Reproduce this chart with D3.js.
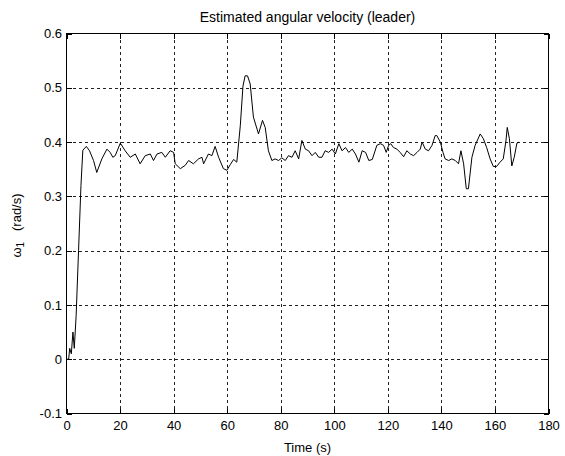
<!DOCTYPE html>
<html>
<head>
<meta charset="utf-8">
<script src="https://cdn.jsdelivr.net/npm/d3@7"></script>
<style>
  html, body { margin: 0; padding: 0; background: #fff; }
  svg { display: block; font-family: "Liberation Sans", Arial, sans-serif; }
</style>
</head>
<body>
<div id="chart"></div>
<script>
/* estimated angular velocity of the leader */
const time = [0, 0.8, 1.2, 1.8, 2.4, 2.9, 3.6, 4.5, 5.4, 6.1, 7.4, 8.6, 10.1, 11.3, 13.2, 15.1, 16.3, 17.3, 18.2,
  20.1, 21.9, 23.8, 25.7, 27.5, 29.4, 31.3, 32.5, 33.8, 35.6, 36.9, 38.7, 40.0, 40.6, 42.5, 44.3, 45.6, 47.4,
  49.3, 50.6, 51.2, 53.0, 54.3, 55.5, 56.8, 58.6, 59.9, 61.1, 62.4, 63.6, 64.9, 65.9, 66.7, 67.6, 68.6, 69.8,
  71.7, 73.2, 74.2, 75.4, 76.7, 77.9, 79.2, 80.4, 81.7, 82.9, 84.2, 85.4, 86.7, 87.9, 89.2, 90.4, 91.7, 92.9,
  94.2, 95.4, 96.6, 97.9, 99.2, 100.4, 101.7, 102.9, 104.2, 105.4, 106.7, 107.9, 109.2, 110.4, 111.7, 112.9,
  114.2, 115.9, 117.2, 118.4, 119.4, 120.3, 121.1, 122.1, 123.4, 124.6, 125.9, 127.1, 128.4, 129.6, 130.9,
  132.1, 132.8, 134.0, 135.2, 136.5, 137.7, 138.3, 139.6, 140.6, 141.4, 142.7, 143.9, 145.2, 146.4, 147.3,
  148.3, 149.3, 150.1, 151.4, 152.6, 154.5, 155.7, 156.9, 158.2, 159.4, 160.6, 161.9, 163.1, 164.1, 164.6,
  165.4, 166.3, 167.2, 168.2, 169.0];
const omega = [0, 0, 0.02, 0.01, 0.05, 0.02, 0.08, 0.2, 0.32, 0.385, 0.392, 0.384, 0.366, 0.344, 0.369, 0.387, 0.381, 0.372, 0.375,
  0.398, 0.384, 0.372, 0.378, 0.360, 0.375, 0.378, 0.366, 0.378, 0.381, 0.372, 0.384, 0.381, 0.360, 0.351, 0.357, 0.366, 0.360,
  0.369, 0.372, 0.360, 0.378, 0.375, 0.392, 0.372, 0.351, 0.348, 0.358, 0.368, 0.363, 0.430, 0.503, 0.522, 0.522, 0.507, 0.446,
  0.415, 0.440, 0.427, 0.384, 0.366, 0.369, 0.366, 0.371, 0.366, 0.375, 0.372, 0.384, 0.369, 0.403, 0.387, 0.384, 0.375, 0.381,
  0.372, 0.372, 0.384, 0.381, 0.387, 0.378, 0.397, 0.384, 0.390, 0.381, 0.387, 0.378, 0.363, 0.384, 0.381, 0.366,
  0.368, 0.394, 0.397, 0.394, 0.381, 0.394, 0.397, 0.390, 0.387, 0.381, 0.373, 0.384, 0.378, 0.375, 0.381,
  0.387, 0.400, 0.387, 0.384, 0.394, 0.412, 0.412, 0.400, 0.381, 0.369, 0.366, 0.369, 0.366, 0.360, 0.384,
  0.360, 0.314, 0.314, 0.372, 0.394, 0.415, 0.406, 0.390, 0.369, 0.355, 0.355, 0.363, 0.369, 0.402, 0.427,
  0.406, 0.356, 0.372, 0.398, 0.400];
const xTicks = [0, 20, 40, 60, 80, 100, 120, 140, 160, 180];
const yTicks = [-0.1, 0, 0.1, 0.2, 0.3, 0.4, 0.5, 0.6];
const yTickLabels = ['-0.1', '0', '0.1', '0.2', '0.3', '0.4', '0.5', '0.6'];

const W = 565, H = 456;
const mLeft = 66.5, mRight = 548.5, mTop = 33.5, mBottom = 413.5;

const svg = d3.select('#chart').append('svg')
  .attr('width', W)
  .attr('height', H);

const x = d3.scaleLinear().domain([0, 180]).range([mLeft, mRight]);
const y = d3.scaleLinear().domain([-0.1, 0.6]).range([mBottom, mTop]);

// grid
const grid = svg.append('g')
  .attr('stroke', '#222')
  .attr('stroke-width', 1)
  .attr('stroke-dasharray', '3,3')
  .attr('shape-rendering', 'crispEdges');
grid.selectAll('line.gx')
  .data(xTicks.slice(1, -1))
  .join('line')
  .attr('class', 'gx')
  .attr('x1', d => Math.round(x(d)) + 0.5).attr('x2', d => Math.round(x(d)) + 0.5)
  .attr('y1', mTop).attr('y2', mBottom);
grid.selectAll('line.gy')
  .data(yTicks.slice(1, -1))
  .join('line')
  .attr('class', 'gy')
  .attr('y1', d => Math.round(y(d)) + 0.5).attr('y2', d => Math.round(y(d)) + 0.5)
  .attr('x1', mLeft).attr('x2', mRight);

// axes (ticks inside, box on)
const fmtY = d => yTickLabels[yTicks.indexOf(d)];
const axB = svg.append('g').attr('transform', `translate(0,${mBottom})`)
  .call(d3.axisBottom(x).tickValues(xTicks).tickSize(-5).tickPadding(7.5));
const axT = svg.append('g').attr('transform', `translate(0,${mTop})`)
  .call(d3.axisTop(x).tickValues(xTicks).tickSize(-5).tickFormat(''));
const axL = svg.append('g').attr('transform', `translate(${mLeft},0)`)
  .call(d3.axisLeft(y).tickValues(yTicks).tickSize(-5).tickPadding(4.5).tickFormat(fmtY));
const axR = svg.append('g').attr('transform', `translate(${mRight},0)`)
  .call(d3.axisRight(y).tickValues(yTicks).tickSize(-5).tickFormat(''));

[axB, axT, axL, axR].forEach(a => {
  a.select('.domain').remove();
  a.selectAll('line').attr('stroke', '#000').attr('shape-rendering', 'crispEdges');
  a.selectAll('text').attr('font-size', 13).attr('fill', '#000')
    .attr('font-family', '"Liberation Sans", Arial, sans-serif');
});

svg.append('rect')
  .attr('x', mLeft).attr('y', mTop)
  .attr('width', mRight - mLeft).attr('height', mBottom - mTop)
  .attr('fill', 'none').attr('stroke', '#000')
  .attr('shape-rendering', 'crispEdges');

// curve
const pts = time.map((t, i) => [t, omega[i]]);
svg.append('path')
  .datum(pts)
  .attr('fill', 'none')
  .attr('stroke', '#000')
  .attr('stroke-width', 1)
  .attr('d', d3.line().x(d => x(d[0])).y(d => y(d[1])));

// labels
svg.append('text')
  .attr('x', (mLeft + mRight) / 2).attr('y', 21.5)
  .attr('text-anchor', 'middle')
  .attr('font-size', 14)
  .text('Estimated angular velocity (leader)');

svg.append('text')
  .attr('x', (mLeft + mRight) / 2).attr('y', 452)
  .attr('text-anchor', 'middle')
  .attr('font-size', 13)
  .text('Time (s)');

const yl = svg.append('text')
  .attr('transform', `translate(21,${(mTop + mBottom) / 2 + 2}) rotate(-90)`)
  .attr('text-anchor', 'middle')
  .attr('font-size', 13);
yl.append('tspan').text('ω');
yl.append('tspan').attr('font-size', 10).attr('dy', 3).text('1');
yl.append('tspan').attr('dy', -3).text('\u00a0\u00a0\u00a0(rad/s)');
</script>
</body>
</html>
